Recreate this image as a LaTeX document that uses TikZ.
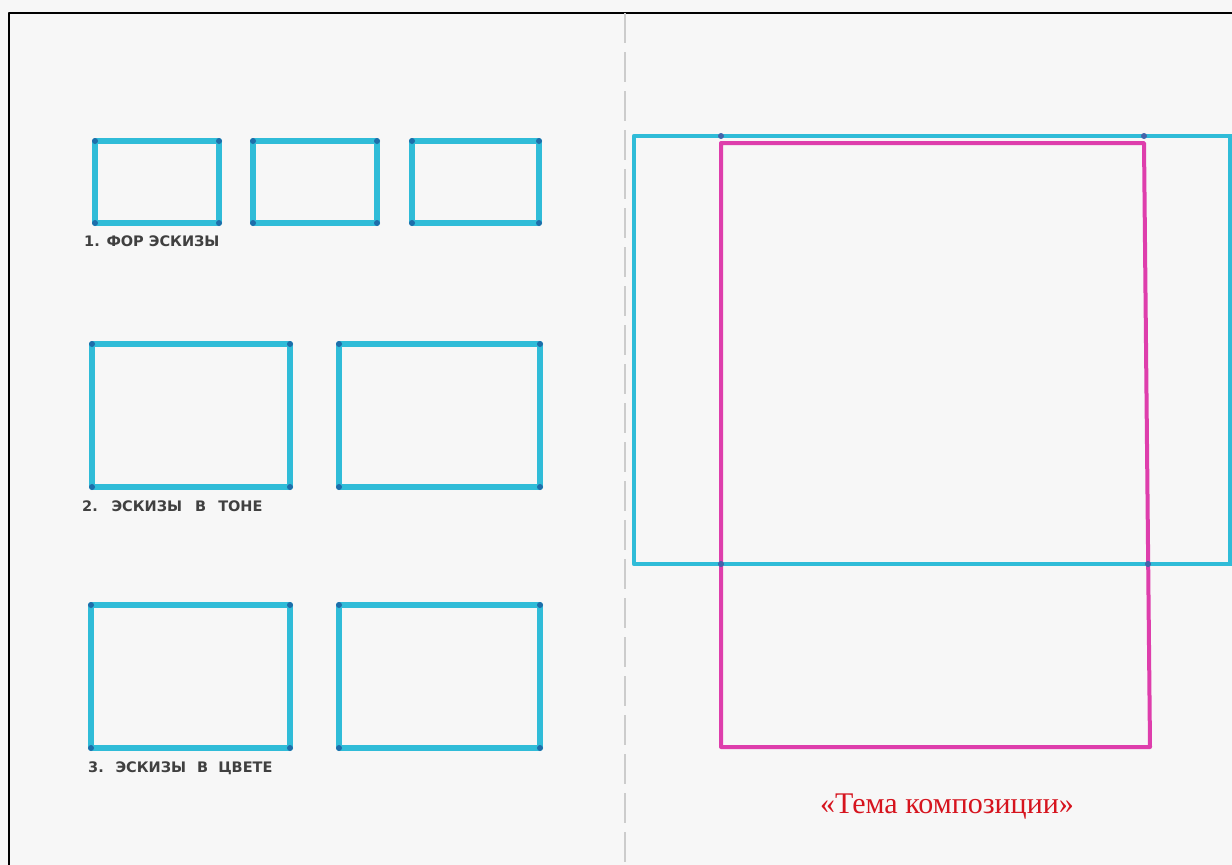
\documentclass[tikz,border=0pt]{standalone}
\usepackage{fontspec}
\setmainfont{Liberation Serif}
\newfontfamily\handfont{DejaVu Sans}
\usepackage{xcolor}
\usepackage{tikz}
\usetikzlibrary{positioning}

\definecolor{paper}{RGB}{247,247,247}
\definecolor{markercyan}{RGB}{48,188,216}
\definecolor{markerdot}{RGB}{30,110,170}
\definecolor{markerpink}{RGB}{222,62,172}
\definecolor{titlered}{RGB}{214,20,30}

\begin{document}
\begin{tikzpicture}[x=1pt, y=-1pt, line join=round,
    sketchbox/.style={markercyan, line width=5.5pt},
    framebox/.style={markerpink, line width=4pt},
    handlabel/.style={anchor=west, inner sep=0pt, font=\handfont\bfseries\fontsize{14.5}{16}\selectfont, text=black!75},
    cornerdot/.style={markerdot}]
    % 1. Фон и рамка листа
    \useasboundingbox (0,0) rectangle (1232,865);
    \fill[paper] (0,0) rectangle (1232,865);
    \draw[black, line width=2.5pt] (9,865) -- (9,13) -- (1232,13);
    % линия сгиба разворота
    \draw[black!20, line width=2pt, dash pattern=on 30pt off 9pt] (625,13) -- (625,865);

    % 2. Форэскизы: три маленьких прямоугольника
    \foreach \xa/\xb in {95/219, 253/377, 412/539}{
        \draw[sketchbox] (\xa,141) rectangle (\xb,223);
        \foreach \px/\py in {\xa/141, \xb/141, \xa/223, \xb/223}
            \fill[cornerdot] (\px,\py) circle (3pt);
    }
    \node[handlabel] (forlabel) at (84,241) {1. ФОР ЭСКИЗЫ};

    % 3. Эскизы в тоне
    \foreach \xa/\xb in {92/290, 339/540}{
        \draw[sketchbox] (\xa,344) rectangle (\xb,487);
        \foreach \px/\py in {\xa/344, \xb/344, \xa/487, \xb/487}
            \fill[cornerdot] (\px,\py) circle (3pt);
    }
    \node[handlabel] (tonelabel) at (82,506) {2.\hspace{7pt} ЭСКИЗЫ\hspace{8pt} В\hspace{7pt} ТОНЕ};

    % 4. Эскизы в цвете
    \foreach \xa/\xb in {91/290, 339/540}{
        \draw[sketchbox] (\xa,605) rectangle (\xb,748);
        \foreach \px/\py in {\xa/605, \xb/605, \xa/748, \xb/748}
            \fill[cornerdot] (\px,\py) circle (3pt);
    }
    \node[handlabel] (colorlabel) at (88,768) {3.\hspace{5pt} ЭСКИЗЫ\hspace{6pt} В\hspace{5pt} ЦВЕТЕ};

    % 5. Правая страница: голубой и розовый прямоугольники
    \draw[sketchbox, line width=4.5pt] (1232,136) -- (634,136) -- (634,564) -- (1232,564);
    \draw[markercyan, line width=3.5pt] (1230,136) -- (1230,564);
    \draw[framebox] (721,143) -- (1144,143) -- (1150,747) -- (721,747) -- cycle;
    \foreach \px/\py in {721/136, 1144/136, 721/564, 1148/564}
        \fill[markerdot!80!markerpink] (\px,\py) circle (3pt);

    % 6. Подпись
    \node[text=titlered, font=\fontsize{30}{34}\selectfont] (theme) at (947,807) {«Тема композиции»};
\end{tikzpicture}
\end{document}
